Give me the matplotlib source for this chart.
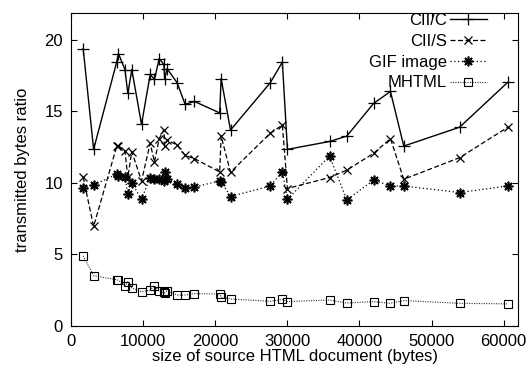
import numpy as np
import matplotlib
matplotlib.use("Agg")
import matplotlib.pyplot as plt

plt.rcParams['font.family'] = ['Liberation Sans', 'DejaVu Sans']

# Data
size = [1650, 3100, 6300, 6550, 7450, 7850, 8400, 9750, 10950, 11550,
        12200, 12850, 12950, 13300, 14700, 15800, 17100, 20600, 20800, 22100,
        27600, 29300, 30000, 35850, 38250, 41950, 44300, 46150, 53900, 60600]

cii_c = [19.4, 12.35, 18.45, 19.05, 17.93, 16.26, 17.93, 14.1, 17.59, 17.24,
         18.7, 18.3, 17.3, 18.0, 17.0, 15.5, 15.7, 14.9, 17.3, 13.7,
         17.0, 18.45, 12.35, 12.9, 13.28, 15.56, 16.4, 12.58, 13.9, 17.05]

cii_s = [10.4, 6.96, 12.55, 12.6, 12.23, 10.4, 12.2, 10.14, 12.77, 11.47,
         13.1, 13.7, 12.58, 13.0, 12.65, 11.93, 11.7, 10.77, 13.28, 10.75,
         13.47, 14.05, 9.61, 10.38, 10.9, 12.07, 13.1, 10.26, 11.77, 13.9]

gif = [9.63, 9.86, 10.6, 10.5, 10.45, 9.2, 10.0, 8.86, 10.38, 10.26,
       10.26, 10.14, 10.8, 10.26, 9.9, 9.68, 9.72, 10.14, 10.1, 9.05,
       9.79, 10.77, 8.86, 11.88, 8.81, 10.2, 9.79, 9.79, 9.33, 9.79]

mhtml = [4.9, 3.51, 3.23, 3.2, 2.77, 3.09, 2.65, 2.39, 2.51, 2.81,
         2.42, 2.35, 2.3, 2.46, 2.16, 2.16, 2.26, 2.23, 2.0, 1.88,
         1.72, 1.85, 1.70, 1.81, 1.6, 1.70, 1.58, 1.77, 1.58, 1.54]

fig = plt.figure(figsize=(5.28, 3.67), dpi=100)
ax = fig.add_axes([0.135, 0.112, 0.846, 0.853])

ax.plot(size, cii_c, color='black', lw=1.0, marker='+', ms=8, mew=0.9,
        label='CII/C')
ax.plot(size, cii_s, color='black', lw=0.9, ls=(0, (4, 2)), marker='x',
        ms=6, mew=0.9, label='CII/S')
ax.plot(size, gif, color='black', lw=0.9, ls=(0, (1, 2)), marker=(8, 2, 0),
        ms=7, mew=1.2, label='GIF image')
ax.plot(size, mhtml, color='#333333', lw=0.8, ls=(0, (1, 1.2)), marker='s',
        ms=6, mew=0.8, mfc='none', mec='black', label='MHTML')

ax.set_xlim(0, 62000)
ax.set_ylim(0, 21.9)
ax.set_xticks(np.arange(0, 60001, 10000))
ax.set_yticks([0, 5, 10, 15, 20])
ax.tick_params(direction='in', top=True, right=True, length=4, width=0.8,
               labelsize=12, pad=6)

ax.set_xlabel('size of source HTML document (bytes)', fontsize=12, labelpad=0)
ax.set_ylabel('transmitted bytes ratio', fontsize=12, labelpad=10)

ax.legend(loc='upper right', bbox_to_anchor=(0.93, 1.0), frameon=False,
          markerfirst=False, fontsize=12, handlelength=2.2, labelspacing=0.35,
          borderpad=0, borderaxespad=0, handletextpad=0.2)

fig.savefig('out.png', dpi=100)
